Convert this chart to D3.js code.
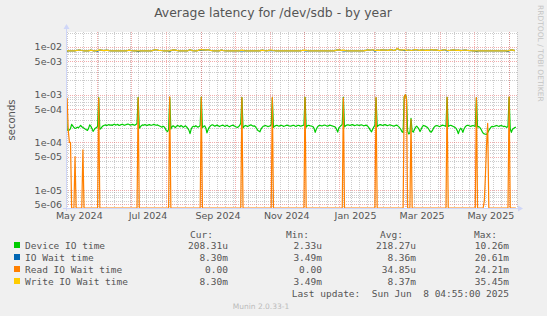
<!DOCTYPE html>
<html><head><meta charset="utf-8">
<script src="https://cdn.jsdelivr.net/npm/d3@7"></script>
<style>html,body{margin:0;padding:0;background:#f0f0f0}svg{display:block}</style>
</head><body><svg id="c" width="547" height="316"></svg>
<script>
// ---------------- DATA ----------------
const chartTitle = "Average latency for /dev/sdb - by year";
const yAxisTitle = "seconds";
const lastUpdate = "Last update:  Sun Jun  8 04:55:00 2025";
const endTimeStr = "2025-06-08 04:55";
const spanDays = 400;
const xTickLabels = ["May 2024","Jul 2024","Sep 2024","Nov 2024","Jan 2025","Mar 2025","May 2025"];
const yTickValues = [1e-2,5e-3,1e-3,5e-4,1e-4,5e-5,1e-5,5e-6];
const yTickLabels = ["1e-02","5e-03","1e-03","5e-04","1e-04","5e-05","1e-05","5e-06"];
const seriesNames = ["Device IO time","IO Wait time","Read IO Wait time","Write IO Wait time"];
const seriesColors = ["#00CC00","#0066B3","#FF8000","#FFCC00"];
const statHeaders = ["Cur:","Min:","Avg:","Max:"];
const statDevice = ["208.31u","2.33u","218.27u","10.26m"];
const statIOWait = ["8.30m","3.49m","8.36m","20.61m"];
const statRead   = ["0.00","0.00","34.85u","24.21m"];
const statWrite  = ["8.30m","3.49m","8.37m","35.45m"];
const footer = "Munin 2.0.33-1";
const watermark = "RRDTOOL / TOBI OETIKER";

// Device IO time, one value per day, microseconds
const deviceIO = [
820,185,176,182,195,238,222,205,196,200,208,202,214,228,212,206,198,190,184,178,
196,232,218,196,170,184,198,206,212,870,188,196,212,222,228,232,226,230,236,228,
232,226,236,240,230,234,238,226,230,236,240,232,228,234,238,242,236,230,234,238,
232,228,236,250,880,198,212,226,232,228,236,230,226,232,236,230,228,234,238,232,
228,232,226,220,214,208,218,212,196,176,168,186,860,190,212,222,214,204,218,226,
220,212,226,218,206,214,222,210,196,180,152,188,210,218,212,222,216,208,214,226,
890,204,214,222,200,158,184,206,220,230,234,226,218,224,230,222,214,220,226,230,
222,216,224,228,218,212,220,226,230,222,216,210,206,212,226,252,870,200,216,226,
222,214,220,228,232,226,218,222,212,196,180,172,166,190,206,218,222,226,220,214,
218,222,230,860,206,218,224,228,222,218,224,228,222,216,220,226,230,226,220,218,
222,226,228,220,216,222,228,224,218,222,226,228,880,208,222,228,224,220,218,214,
196,162,188,210,222,228,224,220,226,230,228,222,218,224,230,226,222,218,214,206,
186,164,200,214,226,236,880,212,222,230,234,230,226,232,236,230,224,228,234,230,
226,230,234,228,222,226,230,224,212,196,178,166,188,210,226,860,214,226,232,236,
230,226,232,236,230,224,228,234,230,226,222,218,226,230,224,214,200,186,166,160,
900,1000,820,170,150,158,320,172,164,186,206,218,206,190,168,188,212,226,222,216,
210,200,184,168,164,178,200,214,222,226,220,214,218,224,230,226,222,216,880,214,
222,228,224,218,212,206,196,176,152,180,198,186,162,190,210,222,228,226,220,216,
222,226,220,214,870,210,214,206,190,170,156,150,148,146,160,178,194,210,216,212,
218,222,226,220,216,222,226,220,214,218,212,206,214,880,190,162,188,196,204,208];

// Read IO Wait time, one value per day, microseconds
const readWait = [
900,820,180,100,100,0,0,0,50,0,0,0,0,0,0,70,0,0,0,0,
0,0,0,0,0,0,0,0,0,850,0,0,0,0,0,0,0,0,0,0,
0,0,0,0,0,0,0,0,0,0,0,0,0,0,0,0,0,0,0,0,
0,0,0,0,860,0,0,0,0,0,0,0,0,0,0,0,0,0,0,0,
0,0,0,0,0,0,0,0,0,0,0,0,900,0,0,0,0,0,0,0,
0,0,0,0,0,0,0,0,0,0,0,0,0,0,0,0,0,0,0,0,
880,0,0,0,0,0,0,0,0,0,0,0,0,0,0,0,0,0,0,0,
0,0,0,0,0,0,0,0,0,0,0,0,0,0,0,0,870,0,0,0,
0,0,0,0,0,0,0,0,0,0,0,0,0,0,0,0,0,0,0,0,
0,0,0,880,0,0,0,0,0,0,0,0,0,0,0,0,0,0,0,0,
0,0,0,0,0,0,0,0,0,0,0,0,870,0,0,0,0,0,0,0,
0,0,0,0,0,0,0,0,0,0,0,0,0,0,0,0,0,0,0,0,
0,0,0,0,0,0,860,0,0,0,0,0,0,0,0,0,0,0,0,0,
0,0,0,0,0,0,0,0,0,0,0,0,0,0,0,880,0,0,0,0,
0,0,0,0,0,0,0,0,0,0,0,0,0,0,0,0,0,0,0,0,
900,1000,800,0,0,0,300,0,0,0,0,0,0,0,0,0,0,0,0,0,
0,0,0,0,0,0,0,0,0,0,0,0,0,0,0,0,0,0,880,0,
0,0,0,0,0,0,0,0,0,0,0,0,0,0,0,0,0,0,0,0,
0,0,0,0,870,0,0,0,0,0,0,6,20,90,250,0,0,0,0,0,
0,0,0,0,0,0,0,0,0,0,0,0,0,900,0,0,0,0,0,0];

// Write IO Wait time, one value per two days, units of 10 microseconds
const writeWait = [
830,832,830,831,830,852,864,842,830,831,830,856,832,830,846,866,852,840,858,838,
832,830,831,830,830,832,830,831,860,834,830,830,831,830,830,832,830,831,830,862,
876,850,844,832,830,831,830,856,868,846,830,831,830,832,830,872,836,830,831,858,
880,870,862,876,850,832,830,831,830,862,834,830,831,830,830,832,830,831,860,836,
830,831,830,832,830,830,831,856,840,830,850,864,844,831,830,832,830,830,831,830,
832,830,831,830,830,852,858,834,830,831,830,832,830,831,830,830,832,830,831,830,
860,870,846,856,840,831,830,832,830,831,830,832,830,850,866,854,876,842,860,850,
870,856,862,846,880,862,852,930,868,856,874,846,864,842,856,880,860,850,870,852,
862,846,876,856,866,850,842,860,874,852,844,858,868,850,860,840,854,864,848,842,
832,830,831,830,832,830,831,830,830,832,830,831,830,830,832,830,831,856,870,830];

// IO Wait time, one value per two days, units of 10 microseconds
const ioWait = [
790,832,830,831,830,852,864,842,830,831,830,856,832,830,812,866,852,840,858,838,
832,830,831,830,830,832,830,831,860,834,830,830,800,830,830,832,830,831,830,862,
876,850,844,832,830,831,800,856,868,846,830,831,830,832,830,872,836,830,831,858,
850,870,862,876,850,832,830,831,830,862,834,830,831,830,830,832,830,831,826,836,
830,831,830,832,830,830,831,856,840,830,850,836,844,831,830,832,830,830,831,830,
832,830,831,830,830,852,828,834,830,831,830,832,830,831,830,830,832,830,831,830,
860,870,846,826,840,831,830,832,830,831,830,832,830,850,866,854,876,818,860,850,
870,856,862,846,880,862,852,930,868,856,842,846,864,842,856,880,860,850,870,852,
862,846,876,856,866,850,842,860,874,826,844,858,868,850,860,840,854,864,848,842,
832,830,810,830,832,830,831,830,830,832,830,831,830,830,832,830,800,856,870,830];

// ---------------- DRAWING ----------------
const W = 547, H = 316;
const L = 66, R = 517, T = 32, B = 208;
const yMin = 4.2e-6, yMax = 2.06e-2;
const DAY = 864e5;
const endTime = d3.timeParse("%Y-%m-%d %H:%M")(endTimeStr);
const startTime = new Date(+endTime - spanDays * DAY);

const svg = d3.select("#c");
svg.append("rect").attr("width", W).attr("height", H).attr("fill", "#f0f0f0");
svg.append("rect").attr("x", L).attr("y", T).attr("width", R - L).attr("height", B - T).attr("fill", "#ffffff");

const x = d3.scaleTime().domain([startTime, endTime]).range([L, R]);
const y = d3.scaleLog().domain([yMin, yMax]).range([B, T]);

const grid = svg.append("g");
const gridGray = "rgba(143,143,143,0.45)";
const gridRed = "rgba(230,90,90,0.5)";
// vertical minor (weekly)
d3.timeWeek.range(startTime, endTime).forEach(d => {
  const px = Math.round(x(d)) + 0.5;
  grid.append("line").attr("x1", px).attr("x2", px).attr("y1", T).attr("y2", B)
    .attr("stroke", gridGray).attr("stroke-dasharray", "1,1");
});
// vertical major (monthly)
d3.timeMonth.range(startTime, endTime).forEach(d => {
  const px = Math.round(x(d)) + 0.5;
  grid.append("line").attr("x1", px).attr("x2", px).attr("y1", T).attr("y2", B)
    .attr("stroke", gridRed).attr("stroke-dasharray", "1,1");
});
// horizontal
for (let e = -6; e <= -2; e++) {
  for (let m = 1; m <= 9; m++) {
    const v = m * Math.pow(10, e);
    if (v < yMin || v > yMax) continue;
    const py = Math.round(y(v)) + 0.5;
    grid.append("line").attr("x1", L).attr("x2", R).attr("y1", py).attr("y2", py)
      .attr("stroke", (m === 1 || m === 5) ? gridRed : gridGray).attr("stroke-dasharray", "1,1");
  }
}

// clip
svg.append("clipPath").attr("id", "clip").append("rect")
  .attr("x", L).attr("y", T - 1).attr("width", R - L).attr("height", B - T + 1);

const line = d3.line().x(d => x(d.t)).y(d => y(Math.max(d.v, yMin)));
function mk(arr, stepDays, unit) {
  return arr.map((v, i) => ({ t: new Date(+startTime + i * stepDays * DAY), v: v * unit }));
}
const seriesData = [
  mk(deviceIO, 1, 1e-6),
  mk(ioWait, 2, 1e-5),
  mk(readWait, 1, 1e-6),
  mk(writeWait, 2, 1e-5)
];
const plot = svg.append("g").attr("clip-path", "url(#clip)");
seriesData.forEach((s, i) => {
  plot.append("path").attr("d", line(s)).attr("fill", "none")
    .attr("stroke", seriesColors[i]).attr("stroke-width", 1.2).attr("stroke-linejoin", "round");
});

// axes
const axisCol = "#CFD6F8";
svg.append("line").attr("x1", L + 0.5).attr("x2", L + 0.5).attr("y1", B + 3).attr("y2", T - 4)
  .attr("stroke", axisCol);
svg.append("line").attr("x1", L - 3).attr("x2", R + 2).attr("y1", B + 0.5).attr("y2", B + 0.5)
  .attr("stroke", axisCol);
svg.append("path").attr("d", `M${L - 2.5},${T - 3} L${L + 0.5},${T - 8} L${L + 3.5},${T - 3} Z`).attr("fill", axisCol);
svg.append("path").attr("d", `M${R + 1},${B - 2.5} L${R + 6},${B + 0.5} L${R + 1},${B + 3.5} Z`).attr("fill", axisCol);

const fontCol = "#555";
// y tick labels
yTickValues.forEach((v, i) => {
  svg.append("text").attr("x", 62).attr("y", y(v) + 3.5).attr("text-anchor", "end")
    .attr("font-family", "DejaVu Sans").attr("font-size", "9.5px").attr("fill", fontCol)
    .text(yTickLabels[i]);
});
// x tick labels
const parseMonth = d3.timeParse("%b %Y");
xTickLabels.forEach(lbl => {
  const d = parseMonth(lbl);
  const mid = d3.timeDay.offset(d, 15);
  svg.append("text").attr("x", x(mid)).attr("y", 219).attr("text-anchor", "middle")
    .attr("font-family", "DejaVu Sans").attr("font-size", "9.5px").attr("fill", fontCol)
    .text(lbl);
});

// title
svg.append("text").attr("x", 273).attr("y", 17).attr("text-anchor", "middle")
  .attr("font-family", "DejaVu Sans").attr("font-size", "12.4px").attr("fill", fontCol)
  .text(chartTitle);
// y axis title
svg.append("text").attr("transform", "translate(15,120) rotate(-90)").attr("text-anchor", "middle")
  .attr("font-family", "DejaVu Sans").attr("font-size", "10px").attr("fill", fontCol)
  .text(yAxisTitle);
// watermark
svg.append("text").attr("transform", "translate(538,5) rotate(90)").attr("text-anchor", "start")
  .attr("font-family", "DejaVu Sans").attr("font-size", "7.5px").attr("fill", "#c4c4c4")
  .text(watermark);

// legend
const mono = "DejaVu Sans Mono";
const colRight = [228, 322, 416, 509];
const headRight = [213, 309, 403, 497];
statHeaders.forEach((h, i) => {
  svg.append("text").attr("x", headRight[i]).attr("y", 237.5).attr("text-anchor", "end")
    .attr("font-family", mono).attr("font-size", "9.5px").attr("fill", fontCol).text(h);
});
const stats = [statDevice, statIOWait, statRead, statWrite];
seriesNames.forEach((n, i) => {
  const by = 249 + i * 12;
  svg.append("rect").attr("x", 14).attr("y", by - 7).attr("width", 6).attr("height", 6).attr("fill", seriesColors[i]);
  svg.append("text").attr("x", 25).attr("y", by).attr("font-family", mono).attr("font-size", "9.5px")
    .attr("fill", fontCol).text(n);
  stats[i].forEach((s, j) => {
    svg.append("text").attr("x", colRight[j]).attr("y", by).attr("text-anchor", "end")
      .attr("font-family", mono).attr("font-size", "9.5px").attr("fill", fontCol).text(s);
  });
});
svg.append("text").attr("x", 509).attr("y", 297).attr("text-anchor", "end")
  .attr("font-family", mono).attr("font-size", "9.5px").attr("fill", fontCol)
  .style("white-space", "pre").text(lastUpdate);
svg.append("text").attr("x", 261).attr("y", 308.5).attr("text-anchor", "middle")
  .attr("font-family", "DejaVu Sans").attr("font-size", "7.5px").attr("fill", "#bbbbbb")
  .text(footer);
</script>
</body></html>
